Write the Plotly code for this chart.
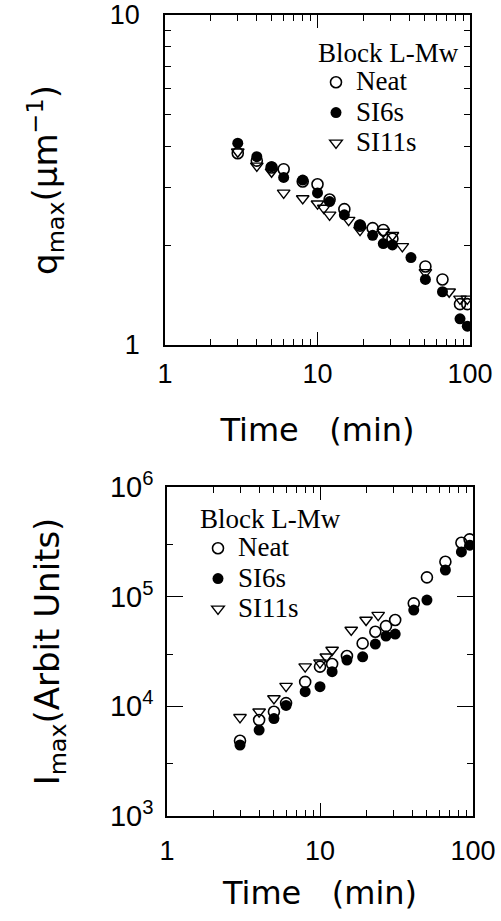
import plotly.graph_objects as go

# ---- top panel: q_max vs time ----
t_neat_q = [3, 4, 5, 6, 8, 10, 12, 15, 19, 23, 27, 31, 51, 66, 86, 96]
q_neat = [3.81, 3.62, 3.45, 3.41, 3.13, 3.07, 2.76, 2.58, 2.30, 2.26, 2.23, 2.10, 1.73, 1.58, 1.33, 1.33]
t_si6_q = [3, 4, 5, 6, 8, 10, 12, 15, 19, 23, 27, 31, 41, 51, 66, 86, 96]
q_si6 = [4.09, 3.72, 3.47, 3.22, 3.16, 2.89, 2.72, 2.48, 2.31, 2.15, 2.03, 2.01, 1.84, 1.58, 1.45, 1.20, 1.14]
t_si11_q = [3, 4, 5, 6, 8, 10, 11, 12, 16, 19, 27, 31, 36, 51, 73, 86, 96]
q_si11 = [3.85, 3.49, 3.35, 2.89, 2.78, 2.68, 2.60, 2.48, 2.39, 2.23, 2.20, 2.15, 1.99, 1.66, 1.45, 1.38, 1.38]

# ---- bottom panel: I_max vs time ----
t_neat_i = [3, 4, 5, 6, 8, 10, 12, 15, 19, 23, 27, 31, 41, 50, 66, 84, 95]
i_neat = [4850, 7500, 8930, 10700, 16700, 23000, 24300, 28800, 37500, 47900, 53900, 61200, 86900, 150000, 208000, 310000, 333000]
t_si6_i = [3, 4, 5, 6, 8, 10, 12, 15, 19, 23, 27, 31, 41, 50, 66, 84, 95]
i_si6 = [4440, 6080, 7740, 10200, 13600, 15100, 20700, 26400, 28300, 37000, 43700, 45600, 75500, 93100, 175000, 256000, 295000]
t_si11_i = [3, 4, 5, 6, 8, 10, 11, 12, 16, 20, 24]
i_si11 = [7940, 8930, 11800, 15300, 23000, 25000, 28300, 32600, 49700, 61200, 67900]

series_names = ["Neat", "SI6s", "SI11s"]
legend_title = "Block L-Mw"

sans = "Liberation Sans, Arial, sans-serif"
wide_sans = "DejaVu Sans, Verdana, sans-serif"
serif = "Liberation Serif, Times New Roman, serif"

open_circle = dict(symbol="circle-open", size=11, color="black", line=dict(width=1.6, color="black"))
filled_circle = dict(symbol="circle", size=11, color="black", line=dict(width=0))
open_tri = dict(symbol="triangle-down-open", size=11, color="black", line=dict(width=1.4, color="black"))
styles = [open_circle, filled_circle, open_tri]

fig = go.Figure()

top_data = [(t_neat_q, q_neat), (t_si6_q, q_si6), (t_si11_q, q_si11)]
bot_data = [(t_neat_i, i_neat), (t_si6_i, i_si6), (t_si11_i, i_si11)]

def legend_label(name):
    return "<span style='font-size:27px'>" + name + "</span>"

for (x, y), name, st in zip(top_data, series_names, styles):
    fig.add_trace(go.Scatter(x=x, y=y, mode="markers", name=legend_label(name), marker=st,
                             xaxis="x", yaxis="y", legend="legend"))
for (x, y), name, st in zip(bot_data, series_names, styles):
    fig.add_trace(go.Scatter(x=x, y=y, mode="markers", name=legend_label(name), marker=st,
                             xaxis="x2", yaxis="y2", legend="legend2"))

W, H = 501, 921
def px_x(p):
    return p / W
def px_y(p):
    return 1 - p / H

axis_common = dict(type="log", showgrid=False, zeroline=False, showline=True,
                   linecolor="black", linewidth=1.5, mirror="allticks", automargin=False,
                   ticks="inside", tickcolor="black", tickwidth=1.2,
                   tickfont=dict(family=sans, size=27, color="black"))

minor_x = dict(ticks="inside", ticklen=6, tickcolor="black", tickwidth=1,
               tickvals=[2, 3, 4, 5, 6, 7, 8, 9, 20, 30, 40, 50, 60, 70, 80, 90], showgrid=False)

nb = "\u00a0"
xtitle = "Time" + nb * 3 + "(min)"

fig.update_layout(
    width=W, height=H, margin=dict(l=0, r=0, t=0, b=0, autoexpand=False),
    paper_bgcolor="white", plot_bgcolor="white",
    xaxis=dict(axis_common, domain=[px_x(165), px_x(470)], range=[0, 2], anchor="y",
               tickvals=[1, 10, 100], ticktext=["1", "10", "100"], ticklen=13,
               ticklabelstandoff=4, minor=minor_x,
               title=dict(text=xtitle, font=dict(family=wide_sans, size=32, color="black"), standoff=30)),
    yaxis=dict(axis_common, domain=[px_y(345), px_y(15)], range=[0, 1], anchor="x",
               tickvals=[1, 10], ticktext=["1", "10"], ticklen=13, ticklabelstandoff=18,
               minor=dict(ticks="inside", ticklen=6, tickcolor="black", tickwidth=1,
                          tickvals=[2, 3, 4, 5, 6, 7, 8, 9], showgrid=False),
               title=dict(text="q<sub>max</sub>(μm<sup>−1</sup>)", font=dict(family=wide_sans, size=34, color="black"), standoff=42)),
    xaxis2=dict(axis_common, domain=[px_x(167), px_x(473)], range=[0, 2], anchor="y2",
                tickvals=[1, 10, 100], ticktext=["1", "10", "100"], ticklen=13,
                ticklabelstandoff=10, minor=minor_x,
                title=dict(text=xtitle, font=dict(family=wide_sans, size=32, color="black"), standoff=16)),
    yaxis2=dict(axis_common, domain=[px_y(816), px_y(487)], range=[3, 6], anchor="x2",
                tickvals=[1e3, 1e4, 1e5, 1e6],
                ticktext=["10<sup>3</sup>", "10<sup>4</sup>", "10<sup>5</sup>", "10<sup>6</sup>"],
                tickfont=dict(family=sans, size=29, color="black"),
                ticklen=16, ticklabelstandoff=6,
                minor=dict(ticks="inside", ticklen=6, tickcolor="black", tickwidth=1,
                           tickvals=[3e3, 3e4, 3e5], showgrid=False),
                title=dict(text="I<sub>max</sub>(Arbit" + nb + "Units)", font=dict(family=wide_sans, size=34, color="black"), standoff=40)),
    legend=dict(x=px_x(316), y=px_y(27), xanchor="left", yanchor="top",
                bgcolor="rgba(0,0,0,0)", font=dict(family=serif, size=21, color="black"),
                title=dict(text=legend_title, font=dict(family=serif, size=27, color="black")),
                itemsizing="trace", tracegroupgap=0, indentation=0),
    legend2=dict(x=px_x(198), y=px_y(493), xanchor="left", yanchor="top",
                 bgcolor="rgba(0,0,0,0)", font=dict(family=serif, size=21, color="black"),
                 title=dict(text=legend_title, font=dict(family=serif, size=27, color="black")),
                 itemsizing="trace", tracegroupgap=0, indentation=0),
    showlegend=True,
)

fig.write_html("out.html", config={"displayModeBar": False},
               post_script="document.body.style.margin='0px';")
